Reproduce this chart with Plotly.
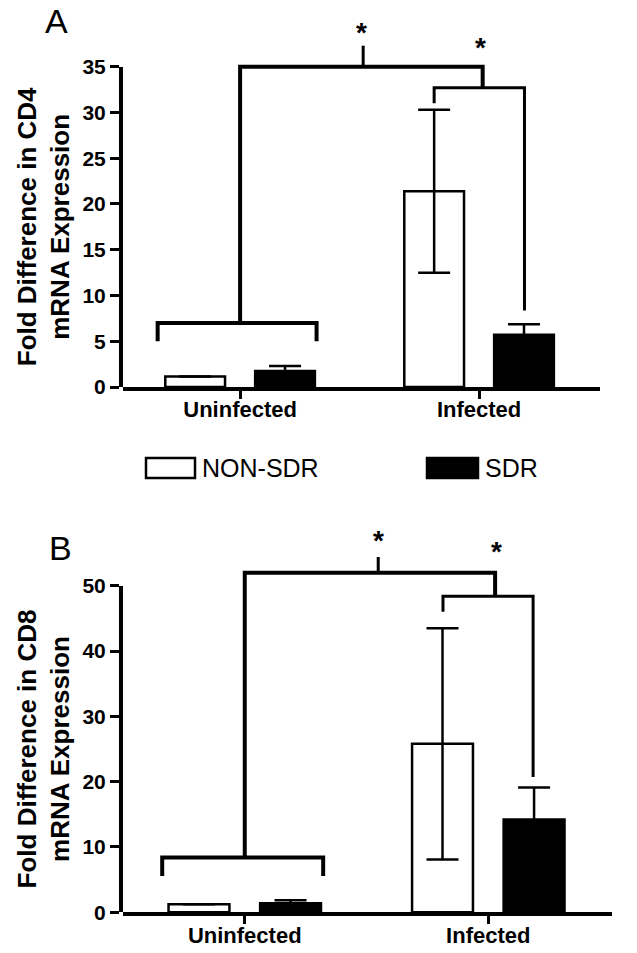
import plotly.graph_objects as go

W, H = 637, 953
FONT = "Liberation Sans, Arial, Helvetica, sans-serif"

# ---------------- data ----------------
categories = ["Uninfected", "Infected"]
groups = ["NON-SDR", "SDR"]
cat_pos = [0, 1]

cd4_nonsdr = [1.15, 21.4]
cd4_nonsdr_err = [0.0, 8.9]
cd4_sdr = [1.75, 5.7]
cd4_sdr_err = [0.55, 1.15]

cd8_nonsdr = [1.25, 25.8]
cd8_nonsdr_err = [0.0, 17.7]
cd8_sdr = [1.4, 14.2]
cd8_sdr_err = [0.45, 4.9]

cd4_ticks = [0, 5, 10, 15, 20, 25, 30, 35]
cd8_ticks = [0, 10, 20, 30, 40, 50]

# significance brackets (polylines in data coordinates): (xs, ys, line width)
cd4_brackets = [
    ([-0.345, -0.345, 0.32, 0.32], [5.0, 7.0, 7.0, 5.0], 4),
    ([0, 0, 1.015, 1.015], [7.0, 35.0, 35.0, 32.7], 4),
    ([0.812, 0.812, 1.19, 1.19], [31.0, 32.7, 32.7, 8.35], 3),
    ([0.515, 0.515], [35.0, 37.3], 3),
]
cd4_stars_x = [0.51, 1.008]
cd4_stars_y = [38.7, 37.15]

cd8_brackets = [
    ([-0.339, -0.339, 0.322, 0.322], [5.55, 8.4, 8.4, 5.55], 4),
    ([0, 0, 1.028, 1.028], [8.4, 52.0, 52.0, 48.4], 4),
    ([0.814, 0.814, 1.184, 1.184], [46.0, 48.4, 48.4, 20.7], 3),
    ([0.548, 0.548], [52.0, 54.4], 3),
]
cd8_stars_x = [0.548, 1.032]
cd8_stars_y = [57.0, 55.2]

# ---------------- layout helpers ----------------
def px_x(p):
    return p / W

def px_y(p):
    return 1 - p / H

BAR_W = 0.25
OFFS = 0.188

fig = go.Figure()

panels = [
    dict(xa="x", ya="y", disp="y3", non=cd4_nonsdr, non_e=cd4_nonsdr_err,
         sdr=cd4_sdr, sdr_e=cd4_sdr_err, br=cd4_brackets,
         sx=cd4_stars_x, sy=cd4_stars_y),
    dict(xa="x2", ya="y2", disp="y4", non=cd8_nonsdr, non_e=cd8_nonsdr_err,
         sdr=cd8_sdr, sdr_e=cd8_sdr_err, br=cd8_brackets,
         sx=cd8_stars_x, sy=cd8_stars_y),
]

for p in panels:
    fig.add_trace(go.Bar(
        x=cat_pos, y=p["non"], name=groups[0], xaxis=p["xa"], yaxis=p["ya"],
        width=BAR_W, offset=-OFFS - BAR_W / 2,
        marker=dict(color="white", line=dict(color="black", width=2.5)),
        error_y=dict(type="data", array=p["non_e"], color="black",
                     thickness=2.5, width=16),
        showlegend=False, hoverinfo="skip"))
    fig.add_trace(go.Bar(
        x=cat_pos, y=p["sdr"], name=groups[1], xaxis=p["xa"], yaxis=p["ya"],
        width=BAR_W, offset=OFFS - BAR_W / 2,
        marker=dict(color="black", line=dict(color="black", width=2.5)),
        error_y=dict(type="data", array=p["sdr_e"], color="black",
                     thickness=2.5, width=16),
        showlegend=False, hoverinfo="skip"))
    # empty trace so the display axis subplot exists
    fig.add_trace(go.Scatter(x=[None], y=[None], xaxis=p["xa"], yaxis=p["disp"],
                             showlegend=False, hoverinfo="skip"))
    for xs, ys, lw in p["br"]:
        path = "M " + " L ".join(f"{a},{b}" for a, b in zip(xs, ys))
        fig.add_shape(type="path", path=path, xref=p["xa"], yref=p["ya"],
                      line=dict(color="black", width=lw), layer="above")
    for sx, sy in zip(p["sx"], p["sy"]):
        fig.add_annotation(x=sx, y=sy, xref=p["xa"], yref=p["ya"], text="*",
                           showarrow=False, yanchor="middle",
                           font=dict(family=FONT, size=28, color="black", weight="bold"))

# axis geometry (pixels)
top_y0, top_y35, top_top = 387, 66.7, 21
bot_y0, bot_y50, bot_top = 912.3, 585.7, 520.4

xcommon = dict(showline=True, linewidth=4, linecolor="black", ticks="outside",
               ticklen=8, tickwidth=3, tickcolor="black", tickvals=cat_pos,
               ticktext=categories, showgrid=False, zeroline=False,
               ticklabelstandoff=-8,
               tickfont=dict(family=FONT, size=22, color="black", weight="bold"),
               automargin=False, fixedrange=True)
ydisp = dict(showline=True, linewidth=4, linecolor="black", ticks="outside",
             ticklen=9, tickwidth=3, tickcolor="black", showgrid=False,
             zeroline=False, anchor="x",
             tickfont=dict(family=FONT, size=21, color="black", weight="bold"),
             automargin=False, fixedrange=True)

fig.update_layout(
    width=W, height=H, margin=dict(l=0, r=0, t=0, b=0),
    template="none", paper_bgcolor="white", plot_bgcolor="rgba(0,0,0,0)",
    barmode="overlay", showlegend=False, hovermode=False,
    xaxis=dict(xcommon, domain=[px_x(123), px_x(600)], range=[-0.49, 1.506], anchor="y"),
    xaxis2=dict(xcommon, domain=[px_x(123), px_x(612)], range=[-0.5, 1.508], anchor="y2"),
    yaxis=dict(domain=[px_y(top_y0), px_y(top_top)], range=[0, 40], visible=False,
               anchor="x", fixedrange=True),
    yaxis2=dict(domain=[px_y(bot_y0), px_y(bot_top)], range=[0, 60], visible=False,
                anchor="x2", fixedrange=True),
    yaxis3=dict(ydisp, domain=[px_y(top_y0), px_y(top_y35)], range=[0, 35],
                tickvals=cd4_ticks, anchor="x",
                title=dict(text="Fold Difference in CD4<br>mRNA Expression", standoff=6,
                           font=dict(family=FONT, size=26, color="black", weight="bold"))),
    yaxis4=dict(ydisp, domain=[px_y(bot_y0), px_y(bot_y50)], range=[0, 50],
                tickvals=cd8_ticks, anchor="x2",
                title=dict(text="Fold Difference in CD8<br>mRNA Expression", standoff=6,
                           font=dict(family=FONT, size=26, color="black", weight="bold"))),
)

# panel letters
for letter, cx, cy in [("A", 56.5, 21), ("B", 60.5, 547.5)]:
    fig.add_annotation(x=px_x(cx), y=px_y(cy), xref="paper", yref="paper", text=letter,
                       showarrow=False, xanchor="center", yanchor="middle",
                       font=dict(family=FONT, size=34, color="black"))

# legend (swatches + labels)
leg_y0, leg_y1 = 458, 478
for name, bx0, bx1, fill, tx in [(groups[0], 146, 195, "white", 200),
                                 (groups[1], 427, 478, "black", 483)]:
    fig.add_shape(type="rect", xref="paper", yref="paper",
                  x0=px_x(bx0), x1=px_x(bx1), y0=px_y(leg_y1), y1=px_y(leg_y0),
                  fillcolor=fill, line=dict(color="black", width=2.5))
    fig.add_annotation(x=px_x(tx), y=px_y((leg_y0 + leg_y1) / 2), xref="paper", yref="paper",
                       text=name, showarrow=False, xanchor="left", yanchor="middle",
                       font=dict(family=FONT, size=25, color="black"))

fig.write_html("out.html", config={"displayModeBar": False, "staticPlot": True},
               post_script="document.body.style.margin='0px';document.body.style.padding='0px';")
